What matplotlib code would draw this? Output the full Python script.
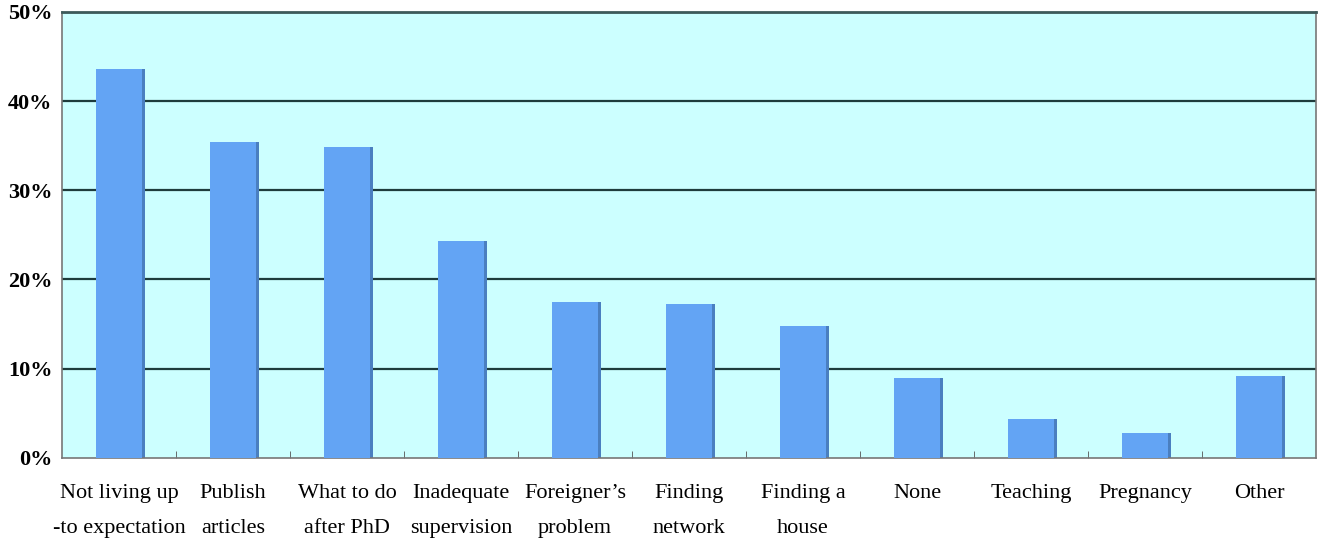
import matplotlib
matplotlib.use('Agg')
import numpy as np
import matplotlib.pyplot as plt

# data
categories = ['Not living up\n-to expectation', 'Publish\narticles', 'What to do\nafter PhD',
              'Inadequate\nsupervision', 'Foreigner\u2019s\nproblem', 'Finding\nnetwork',
              'Finding a\nhouse', 'None', 'Teaching', 'Pregnancy', 'Other']
values = [43.6, 35.4, 34.9, 24.3, 17.5, 17.3, 14.8, 9.0, 4.4, 2.8, 9.2]
yticks = [0, 10, 20, 30, 40, 50]

plt.rcParams['font.family'] = ['Liberation Serif', 'DejaVu Serif']

fig = plt.figure(figsize=(13.2, 5.45), dpi=100)
ax = fig.add_axes([0.047, 0.16, 0.95, 0.818])
ax.set_facecolor('#ccffff')

x = np.arange(len(categories))
# small shadow on the right edge of each bar
ax.bar(x + 0.02, values, width=0.41, color='#4a7fc0', zorder=2)
ax.bar(x, values, width=0.41, color='#63a4f4', zorder=3)

ax.set_xlim(-0.5, len(categories) - 0.5)
ax.set_ylim(0, 50)

for y in yticks[1:]:
    ax.axhline(y, color='#1e3c3c', linewidth=1.6, zorder=1)

ax.set_yticks(yticks)
ax.set_yticklabels([f'{v}%' for v in yticks], fontsize=16, fontweight='bold')
ax.tick_params(axis='y', length=0, pad=7)

ax.set_xticks(x)
ax.set_xticklabels(categories, fontsize=16, linespacing=2.1)
ax.tick_params(axis='x', length=0, pad=19)
ax.set_xticks(np.arange(len(categories) - 1) + 0.5, minor=True)
ax.tick_params(axis='x', which='minor', direction='in', length=5, color='#555555')

for s in ['left', 'right', 'bottom']:
    ax.spines[s].set_color('#777777')
    ax.spines[s].set_linewidth(1.2)
ax.spines['top'].set_color('#3c5a5a')
ax.spines['top'].set_linewidth(2)

fig.savefig('out.png', dpi=100)
